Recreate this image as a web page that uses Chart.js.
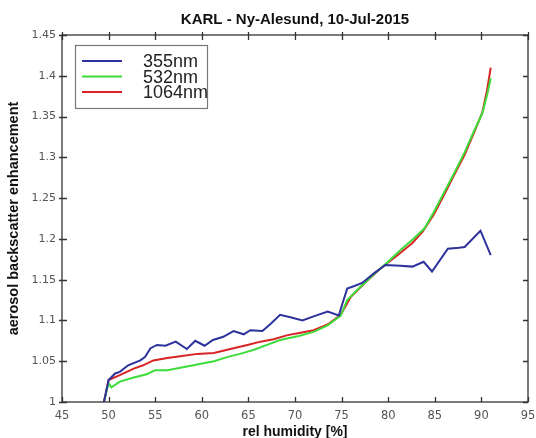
<!DOCTYPE html>
<html>
<head>
<meta charset="utf-8">
<script src="https://cdn.jsdelivr.net/npm/chart.js@4"></script>
<style>
  html, body { margin: 0; padding: 0; background: #fff; }
  #wrap { width: 536px; height: 438px; }
</style>
</head>
<body>
<div id="wrap"><canvas id="enhChart" width="536" height="438"></canvas></div>
<script>
// relative humidity [%] and backscatter enhancement per wavelength
const rh355 = [49.5, 50.0, 50.7, 51.2, 52.1, 53.4, 53.9, 54.5, 55.2, 56.1, 57.2, 58.4, 59.3, 60.3, 61.2, 62.3, 63.4, 64.5, 65.2, 66.5, 67.4, 68.4, 69.5, 70.8, 72.0, 73.5, 74.7, 75.1, 75.6, 76.3, 77.2, 78.5, 79.7, 81.3, 82.6, 83.8, 84.7, 86.4, 87.6, 88.2, 89.9, 91.0];
const bsc355 = [1.000, 1.027, 1.035, 1.037, 1.045, 1.051, 1.055, 1.066, 1.070, 1.069, 1.074, 1.065, 1.075, 1.069, 1.076, 1.080, 1.087, 1.083, 1.088, 1.087, 1.096, 1.107, 1.104, 1.100, 1.105, 1.111, 1.106, 1.121, 1.139, 1.142, 1.146, 1.158, 1.168, 1.167, 1.166, 1.172, 1.160, 1.188, 1.189, 1.190, 1.210, 1.180];

const rh532 = [49.5, 50.0, 50.3, 51.2, 52.7, 54.1, 55.0, 56.3, 57.7, 59.1, 59.9, 61.3, 62.7, 64.1, 65.6, 67.0, 68.4, 70.4, 72.0, 73.5, 74.9, 75.6, 77.0, 78.5, 79.9, 81.3, 82.8, 83.9, 84.9, 86.0, 87.1, 88.2, 89.2, 90.1, 90.6, 91.0];
const bsc532 = [1.000, 1.023, 1.018, 1.025, 1.030, 1.034, 1.039, 1.039, 1.042, 1.045, 1.047, 1.050, 1.055, 1.059, 1.064, 1.070, 1.076, 1.081, 1.086, 1.094, 1.106, 1.125, 1.141, 1.157, 1.171, 1.186, 1.201, 1.213, 1.233, 1.257, 1.281, 1.306, 1.332, 1.354, 1.376, 1.397];

const rh1064 = [49.5, 50.0, 51.2, 52.7, 53.7, 54.8, 56.3, 57.7, 59.5, 61.3, 63.4, 64.9, 66.3, 67.7, 69.2, 70.6, 72.0, 73.5, 74.9, 76.0, 77.4, 79.2, 81.0, 82.6, 83.7, 84.9, 86.0, 87.1, 88.2, 89.2, 90.1, 90.6, 91.0];
const bsc1064 = [1.000, 1.027, 1.033, 1.041, 1.045, 1.051, 1.054, 1.056, 1.059, 1.060, 1.066, 1.070, 1.074, 1.077, 1.082, 1.085, 1.088, 1.095, 1.107, 1.129, 1.145, 1.164, 1.180, 1.195, 1.209, 1.230, 1.254, 1.279, 1.303, 1.330, 1.355, 1.382, 1.410];

const seriesNames = ['355nm', '532nm', '1064nm'];
const seriesColors = ['#2e329c', '#3ddc3a', '#d82424'];

const xMin = 45, xMax = 95, xStep = 5;
const yMin = 1, yMax = 1.45, yStep = 0.05;

function toPoints(xs, ys) {
  return xs.map((x, i) => ({ x: x, y: ys[i] }));
}

// frame around the plot + small ticks on all four sides
const frameTicks = {
  id: 'frameTicks',
  afterDraw(chart) {
    const { ctx, chartArea: a, scales } = chart;
    const len = 5;
    ctx.save();
    ctx.strokeStyle = '#333';
    ctx.lineWidth = 1.3;
    ctx.strokeRect(a.left, a.top, a.right - a.left, a.bottom - a.top);
    ctx.beginPath();
    scales.x.ticks.forEach(t => {
      const px = Math.round(scales.x.getPixelForValue(t.value)) + 0.5;
      ctx.moveTo(px, a.bottom); ctx.lineTo(px, a.bottom - len);
      ctx.moveTo(px, a.top - 3); ctx.lineTo(px, a.top + len);
    });
    scales.y.ticks.forEach(t => {
      const py = Math.round(scales.y.getPixelForValue(t.value)) + 0.5;
      ctx.moveTo(a.left - 3, py); ctx.lineTo(a.left + len, py);
      ctx.moveTo(a.right, py); ctx.lineTo(a.right - len, py);
    });
    ctx.stroke();
    ctx.restore();
  }
};

// boxed legend in the upper left corner of the plot
const boxLegend = {
  id: 'boxLegend',
  afterDraw(chart) {
    const { ctx } = chart;
    const bx = 75, by = 45, bw = 132, bh = 63;
    ctx.save();
    ctx.fillStyle = '#fff';
    ctx.fillRect(bx, by, bw, bh);
    ctx.strokeStyle = '#777';
    ctx.lineWidth = 1.2;
    ctx.strokeRect(bx + 0.5, by + 0.5, bw, bh);
    ctx.font = '18px "Liberation Sans", Arial, sans-serif';
    ctx.textBaseline = 'middle';
    chart.data.datasets.forEach((ds, i) => {
      const y = 61 + i * 15.5;
      ctx.strokeStyle = ds.borderColor;
      ctx.lineWidth = 2;
      ctx.beginPath();
      ctx.moveTo(82, y); ctx.lineTo(122, y);
      ctx.stroke();
      ctx.fillStyle = '#222';
      ctx.fillText(ds.label, 143, y + 1.5);
    });
    ctx.restore();
  }
};

const ctx = document.getElementById('enhChart').getContext('2d');
const datasets = [
  { label: seriesNames[0], data: toPoints(rh355, bsc355), borderColor: seriesColors[0] },
  { label: seriesNames[1], data: toPoints(rh532, bsc532), borderColor: seriesColors[1] },
  { label: seriesNames[2], data: toPoints(rh1064, bsc1064), borderColor: seriesColors[2] }
].map(d => Object.assign(d, { borderWidth: 2, pointRadius: 0, fill: false, tension: 0 }));

new Chart(ctx, {
  type: 'line',
  data: { datasets },
  options: {
    responsive: false,
    animation: false,
    layout: { padding: { left: 0, right: 0, top: 0, bottom: 0 } },
    plugins: {
      legend: { display: false },
      tooltip: { enabled: false },
      title: {
        display: true,
        fullSize: false,
        text: 'KARL - Ny-Alesund, 10-Jul-2015',
        color: '#111',
        font: { family: '"Liberation Sans", Arial, sans-serif', size: 15, weight: 'bold' },
        padding: { top: 11, bottom: 6 }
      }
    },
    scales: {
      x: {
        type: 'linear',
        min: xMin, max: xMax,
        afterFit: s => { s.height = 36; s.paddingLeft = 0; s.paddingRight = 8; },
        border: { display: false },
        grid: { display: false, drawTicks: false },
        ticks: {
          stepSize: xStep,
          padding: 7,
          color: '#555',
          font: { family: '"DejaVu Sans", Verdana, sans-serif', size: 11.5 }
        },
        title: {
          display: true,
          text: 'rel humidity [%]',
          color: '#111',
          padding: { top: 0, bottom: -3 },
          font: { family: '"Liberation Sans", Arial, sans-serif', size: 14, weight: 'bold' }
        }
      },
      y: {
        min: yMin, max: yMax,
        afterFit: s => { s.width = 62; },
        border: { display: false },
        grid: { display: false, drawTicks: false },
        ticks: {
          stepSize: yStep,
          padding: 6,
          color: '#555',
          font: { family: '"DejaVu Sans", Verdana, sans-serif', size: 11 },
          callback: v => String(+v.toFixed(2))
        },
        title: {
          display: true,
          text: 'aerosol backscatter enhancement',
          color: '#111',
          padding: { top: 5, bottom: 0 },
          font: { family: '"Liberation Sans", Arial, sans-serif', size: 14.5, weight: 'bold' }
        }
      }
    }
  },
  plugins: [frameTicks, boxLegend]
});
</script>
</body>
</html>
